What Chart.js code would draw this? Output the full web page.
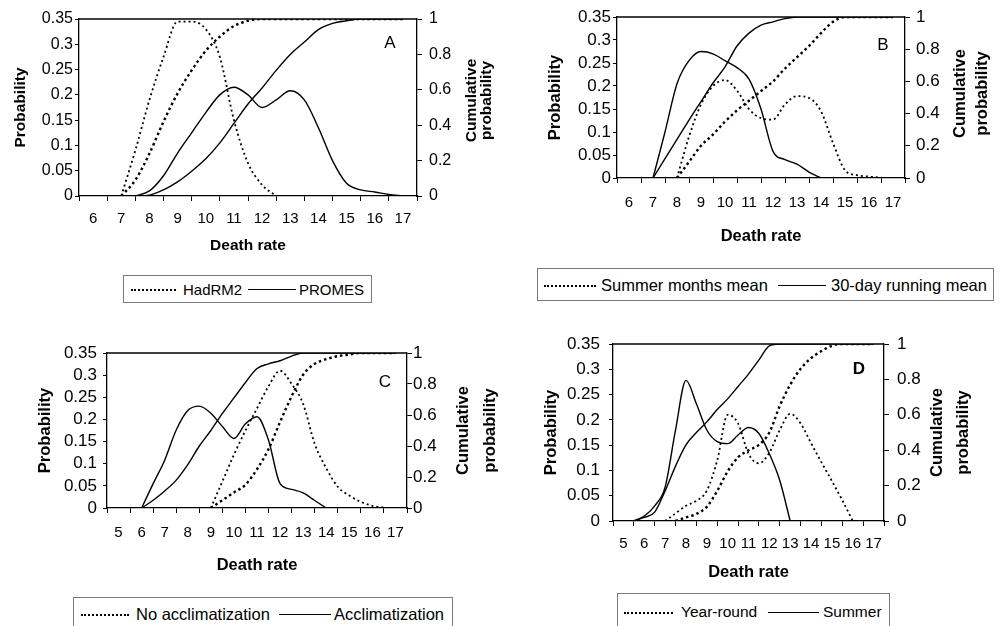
<!DOCTYPE html>
<html>
<head>
<meta charset="utf-8">
<script src="https://cdn.jsdelivr.net/npm/chart.js@4.4.0/dist/chart.umd.min.js"></script>
<style>
  body { margin: 0; width: 1002px; height: 626px; position: relative; overflow: hidden; background: #fff;
         font-family: "Liberation Sans", Arial, sans-serif; color: #000; }
  canvas { position: absolute; }
  .legend { position: absolute; border: 1px solid #7a7a7a; box-sizing: border-box; white-space: nowrap; }
  .legend span { position: absolute; top: 50%; transform: translateY(-50%); }
  .legend i { position: absolute; top: 50%; height: 0; }
  .legend i.dot { border-top: 2px dotted #000; }
  .legend i.line { border-top: 1.5px solid #000; }
</style>
</head>
<body>
<canvas id="chartA"></canvas>
<canvas id="chartB"></canvas>
<canvas id="chartC"></canvas>
<canvas id="chartD"></canvas>

<div class="legend" style="left:123px;top:275px;width:249px;height:28px;font-size:15px">
  <i class="dot" style="left:7px;width:45px"></i><span style="left:59px">HadRM2</span>
  <i class="line" style="left:124px;width:48px"></i><span style="left:175px">PROMES</span>
</div>
<div class="legend" style="left:537px;top:268px;width:457px;height:33px;font-size:16.5px">
  <i class="dot" style="left:6px;width:52px"></i><span style="left:63px">Summer months mean</span>
  <i class="line" style="left:240px;width:48px"></i><span style="left:293px">30-day running mean</span>
</div>
<div class="legend" style="left:73px;top:597px;width:380px;height:34px;font-size:16.5px">
  <i class="dot" style="left:7px;width:48px"></i><span style="left:62px">No acclimatization</span>
  <i class="line" style="left:205px;width:52px"></i><span style="left:260px">Acclimatization</span>
</div>
<div class="legend" style="left:617px;top:593px;width:273px;height:38px;font-size:15.5px">
  <i class="dot" style="left:6px;width:49px"></i><span style="left:63px">Year-round</span>
  <i class="line" style="left:150px;width:51px"></i><span style="left:205px">Summer</span>
</div>

<script>
// death rate values (x) for each pair of panels
const deathRateAB = [6, 6.5, 7, 7.5, 8, 8.5, 9, 9.5, 10, 10.5, 11, 11.5, 12, 12.5, 13, 13.5, 14, 14.5, 15, 15.5, 16, 16.5, 17];
const deathRateCD = [5, 5.5, 6, 6.5, 7, 7.5, 8, 8.5, 9, 9.5, 10, 10.5, 11, 11.5, 12, 12.5, 13, 13.5, 14, 14.5, 15, 15.5, 16, 16.5, 17];

// A: HadRM2 vs PROMES
const hadProb = [null, null, 0, 0.09, 0.19, 0.275, 0.345, 0.345, 0.33, 0.275, 0.15, 0.065, 0.022, 0, null, null, null, null, null, null, null, null, null];
const hadCum = [null, null, 0, 0.09, 0.24, 0.42, 0.58, 0.71, 0.82, 0.9, 0.96, 0.99, 1, 1, 1, 1, 1, 1, 1, 1, 1, 1, 1];
const promesProb = [null, null, null, 0, 0.01, 0.04, 0.085, 0.125, 0.165, 0.2, 0.215, 0.2, 0.175, 0.19, 0.208, 0.19, 0.135, 0.07, 0.025, 0.012, 0.008, 0.003, 0];
const promesCum = [null, null, null, 0, 0.005, 0.035, 0.08, 0.14, 0.21, 0.3, 0.41, 0.52, 0.61, 0.71, 0.8, 0.87, 0.94, 0.975, 0.99, 1, 1, 1, 1];

// B: summer months mean vs 30-day running mean
const summerMeanProb = [null, null, null, null, 0, 0.09, 0.16, 0.2, 0.213, 0.19, 0.15, 0.13, 0.127, 0.16, 0.178, 0.174, 0.145, 0.076, 0.017, 0.006, 0.003, 0.001, null];
const summerMeanCum = [null, null, null, null, 0, 0.1, 0.2, 0.27, 0.35, 0.42, 0.48, 0.54, 0.6, 0.68, 0.75, 0.82, 0.9, 0.97, 1, 1, 1, 1, 1];
const runningProb = [null, null, 0, 0.1, 0.205, 0.255, 0.275, 0.27, 0.255, 0.24, 0.215, 0.15, 0.058, 0.04, 0.03, 0.013, 0, null, null, null, null, null, null];
const runningCum = [null, null, 0, 0.12, 0.24, 0.36, 0.475, 0.59, 0.69, 0.82, 0.9, 0.95, 0.97, 0.99, 1, 1, 1, 1, 1, 1, 1, 1, 1];

// C: no acclimatization vs acclimatization
const noAcclimProb = [null, null, null, null, null, null, null, null, 0, 0.06, 0.12, 0.175, 0.225, 0.275, 0.31, 0.28, 0.235, 0.145, 0.09, 0.048, 0.028, 0.014, 0.005, 0.001, null];
const noAcclimCum = [null, null, null, null, null, null, null, null, 0, 0.05, 0.1, 0.15, 0.25, 0.38, 0.555, 0.72, 0.86, 0.93, 0.96, 0.98, 0.99, 1, 1, 1, 1];
const acclimProb = [null, null, 0, 0.055, 0.108, 0.176, 0.22, 0.23, 0.214, 0.184, 0.157, 0.19, 0.206, 0.153, 0.055, 0.042, 0.034, 0.017, 0, null, null, null, null, null, null];
const acclimCum = [null, null, 0, 0.05, 0.11, 0.18, 0.28, 0.4, 0.5, 0.61, 0.71, 0.81, 0.9, 0.93, 0.95, 0.98, 1, 1, 1, 1, 1, 1, 1, 1, 1];

// D: year-round vs summer
const yearProb = [null, null, null, null, 0, 0.015, 0.03, 0.04, 0.06, 0.12, 0.21, 0.193, 0.133, 0.114, 0.135, 0.18, 0.212, 0.193, 0.154, 0.116, 0.079, 0.041, 0, null, null];
const yearCum = [null, null, null, null, null, 0, 0.02, 0.04, 0.08, 0.17, 0.28, 0.36, 0.4, 0.43, 0.5, 0.65, 0.77, 0.86, 0.92, 0.96, 0.99, 1, 1, 1, 1];
const summerProb = [null, 0, 0.01, 0.03, 0.067, 0.18, 0.278, 0.232, 0.18, 0.157, 0.153, 0.17, 0.185, 0.173, 0.133, 0.08, 0, null, null, null, null, null, null, null, null];
const summerCum = [null, 0, 0.02, 0.05, 0.17, 0.31, 0.43, 0.5, 0.56, 0.63, 0.69, 0.76, 0.83, 0.91, 0.99, 1, 1, 1, 1, 1, 1, 1, 1, 1, 1];

const probTicks = [0, 0.05, 0.1, 0.15, 0.2, 0.25, 0.3, 0.35];
const cumTicks = [0, 0.2, 0.4, 0.6, 0.8, 1];

Chart.defaults.font.family = '"Liberation Sans", Arial, sans-serif';
Chart.defaults.color = '#000';

const FONT = '"Liberation Sans", Arial, sans-serif';

// draws the top frame line, the right axis title and the panel letter
const framePlugin = {
  id: 'frame',
  afterDraw(chart, args, o) {
    const { ctx, chartArea: a } = chart;
    ctx.save();
    ctx.strokeStyle = '#000';
    ctx.lineWidth = 1.3;
    ctx.beginPath();
    ctx.moveTo(a.left, a.top);
    ctx.lineTo(a.right, a.top);
    ctx.stroke();

    ctx.fillStyle = '#000';
    ctx.textAlign = 'center';
    ctx.textBaseline = 'middle';
    ctx.font = 'bold ' + o.titleSize + 'px ' + FONT;
    const cy = (a.top + a.bottom) / 2 + o.rightTitleDy;
    o.rightTitle.forEach((line, i) => {
      ctx.save();
      ctx.translate(a.right + o.rightTitleDx[i], cy);
      ctx.rotate(-Math.PI / 2);
      ctx.fillText(line, 0, 0);
      ctx.restore();
    });

    ctx.font = (o.letterBold ? 'bold ' : '') + '17px ' + FONT;
    ctx.fillText(o.letter, a.right + o.letterDx, a.top + o.letterDy);
    ctx.restore();
  }
};

function pts(xs, ys) {
  return xs.map((x, i) => ({ x: x, y: ys[i] }));
}

function lineSet(label, xs, ys, axis, dotted, heavy) {
  return {
    label: label,
    data: pts(xs, ys),
    yAxisID: axis,
    borderColor: '#000',
    borderWidth: dotted ? (heavy ? 2.4 : 1.8) : 1.4,
    borderDash: dotted ? (heavy ? [2.5, 3] : [2, 3]) : [],
    pointRadius: 0,
    fill: false,
    cubicInterpolationMode: 'monotone',
    spanGaps: false
  };
}

function makePanel(p) {
  const cv = document.getElementById(p.id);
  cv.width = p.box.w;
  cv.height = p.box.h;
  cv.style.left = p.box.x + 'px';
  cv.style.top = p.box.y + 'px';

  const a = p.area;
  const titleLH = p.titleSize * 1.2;

  new Chart(cv, {
    type: 'line',
    data: { datasets: p.datasets },
    options: {
      responsive: false,
      animation: false,
      devicePixelRatio: 1,
      layout: { padding: { left: 0, right: 0, bottom: 0, top: a.t - p.box.y } },
      plugins: {
        legend: { display: false },
        tooltip: { enabled: false },
        frame: {
          letter: p.letter, letterBold: p.letterBold, letterDx: p.letterPos[0], letterDy: p.letterPos[1],
          rightTitle: ['Cumulative', 'probability'], rightTitleDx: p.rightTitleDx, rightTitleDy: p.rightTitleDy,
          titleSize: p.titleSize
        }
      },
      scales: {
        x: {
          type: 'linear',
          min: p.xMin,
          max: 17.5,
          afterBuildTicks: s => {
            const t = [];
            for (let v = p.xMin; v <= 17.5; v += 0.5) t.push({ value: v });
            s.ticks = t;
          },
          afterFit: s => { s.height = p.box.y + p.box.h - a.b; },
          ticks: {
            autoSkip: false, maxRotation: 0, minRotation: 0,
            padding: p.xTickPad,
            font: { size: 15 },
            callback: v => Number.isInteger(v) ? String(v) : ''
          },
          grid: {
            drawOnChartArea: false, drawTicks: true, tickLength: 5, lineWidth: 1,
            color: c => (c.tick && Number.isInteger(c.tick.value)) ? 'rgba(0,0,0,0)' : '#000'
          },
          border: { color: '#000', width: 1.3 },
          title: {
            display: true, text: 'Death rate',
            font: { size: p.titleSize, weight: 'bold' },
            padding: { top: 0, bottom: p.box.y + p.box.h - p.xTitleY - titleLH / 2 }
          }
        },
        y: {
          position: 'left',
          min: 0, max: 0.35,
          afterBuildTicks: s => { s.ticks = probTicks.map(v => ({ value: v })); },
          afterFit: s => { s.width = a.l - p.box.x; },
          ticks: { autoSkip: false, padding: p.yTickPad, font: { size: p.yTickSize }, callback: v => String(+v.toFixed(2)) },
          grid: { drawOnChartArea: false, drawTicks: true, tickLength: 4, color: '#000' },
          border: { color: '#000', width: 1.3 },
          title: {
            display: true, text: 'Probability',
            font: { size: p.titleSize, weight: 'bold' },
            padding: { top: p.leftTitleX - p.box.x - titleLH / 2, bottom: 0 }
          }
        },
        y2: {
          position: 'right',
          min: 0, max: 1,
          afterBuildTicks: s => { s.ticks = cumTicks.map(v => ({ value: v })); },
          afterFit: s => { s.width = p.box.x + p.box.w - a.r; },
          ticks: { autoSkip: false, padding: p.y2TickPad, font: { size: p.yTickSize }, callback: v => String(+v.toFixed(1)) },
          grid: { drawOnChartArea: false, drawTicks: true, tickLength: 5, color: '#000' },
          border: { color: '#000', width: 1.3 }
        }
      }
    },
    plugins: [framePlugin]
  });
}

makePanel({
  id: 'chartA', box: { x: 0, y: 0, w: 500, h: 262 }, area: { l: 79, t: 19, r: 417, b: 196 },
  xMin: 5.5, xTickPad: 9, xTitleY: 246, leftTitleX: 21, titleSize: 15.5, yTickSize: 16,
  yTickPad: 2, y2TickPad: 7, rightTitleDx: [55, 70], rightTitleDy: -7,
  letter: 'A', letterBold: false, letterPos: [-27, 24],
  datasets: [
    lineSet('HadRM2', deathRateAB, hadProb, 'y', true, false),
    lineSet('HadRM2 cumulative', deathRateAB, hadCum, 'y2', true, true),
    lineSet('PROMES', deathRateAB, promesProb, 'y', false),
    lineSet('PROMES cumulative', deathRateAB, promesCum, 'y2', false)
  ]
});

makePanel({
  id: 'chartB', box: { x: 500, y: 0, w: 502, h: 262 }, area: { l: 617, t: 17, r: 905, b: 178 },
  xMin: 5.5, xTickPad: 11, xTitleY: 236, leftTitleX: 555, titleSize: 16.5, yTickSize: 17,
  yTickPad: 2, y2TickPad: 6, rightTitleDx: [55, 77], rightTitleDy: -4,
  letter: 'B', letterBold: false, letterPos: [-22, 28],
  datasets: [
    lineSet('Summer months mean', deathRateAB, summerMeanProb, 'y', true, false),
    lineSet('Summer months mean cumulative', deathRateAB, summerMeanCum, 'y2', true, true),
    lineSet('30-day running mean', deathRateAB, runningProb, 'y', false),
    lineSet('30-day running mean cumulative', deathRateAB, runningCum, 'y2', false)
  ]
});

makePanel({
  id: 'chartC', box: { x: 0, y: 320, w: 500, h: 272 }, area: { l: 107, t: 353, r: 407, b: 508 },
  xMin: 4.5, xTickPad: 11, xTitleY: 565, leftTitleX: 45, titleSize: 16.5, yTickSize: 17,
  yTickPad: 6, y2TickPad: 1, rightTitleDx: [56, 83], rightTitleDy: 0,
  letter: 'C', letterBold: false, letterPos: [-22, 29],
  datasets: [
    lineSet('No acclimatization', deathRateCD, noAcclimProb, 'y', true, false),
    lineSet('No acclimatization cumulative', deathRateCD, noAcclimCum, 'y2', true, true),
    lineSet('Acclimatization', deathRateCD, acclimProb, 'y', false),
    lineSet('Acclimatization cumulative', deathRateCD, acclimCum, 'y2', false)
  ]
});

makePanel({
  id: 'chartD', box: { x: 500, y: 320, w: 502, h: 272 }, area: { l: 613, t: 344, r: 884, b: 521 },
  xMin: 4.5, xTickPad: 9, xTitleY: 572, leftTitleX: 551, titleSize: 16.5, yTickSize: 17,
  yTickPad: 9, y2TickPad: 8, rightTitleDx: [53, 79], rightTitleDy: 0,
  letter: 'D', letterBold: true, letterPos: [-25, 25],
  datasets: [
    lineSet('Year-round', deathRateCD, yearProb, 'y', true, false),
    lineSet('Year-round cumulative', deathRateCD, yearCum, 'y2', true, true),
    lineSet('Summer', deathRateCD, summerProb, 'y', false),
    lineSet('Summer cumulative', deathRateCD, summerCum, 'y2', false)
  ]
});
</script>
</body>
</html>
